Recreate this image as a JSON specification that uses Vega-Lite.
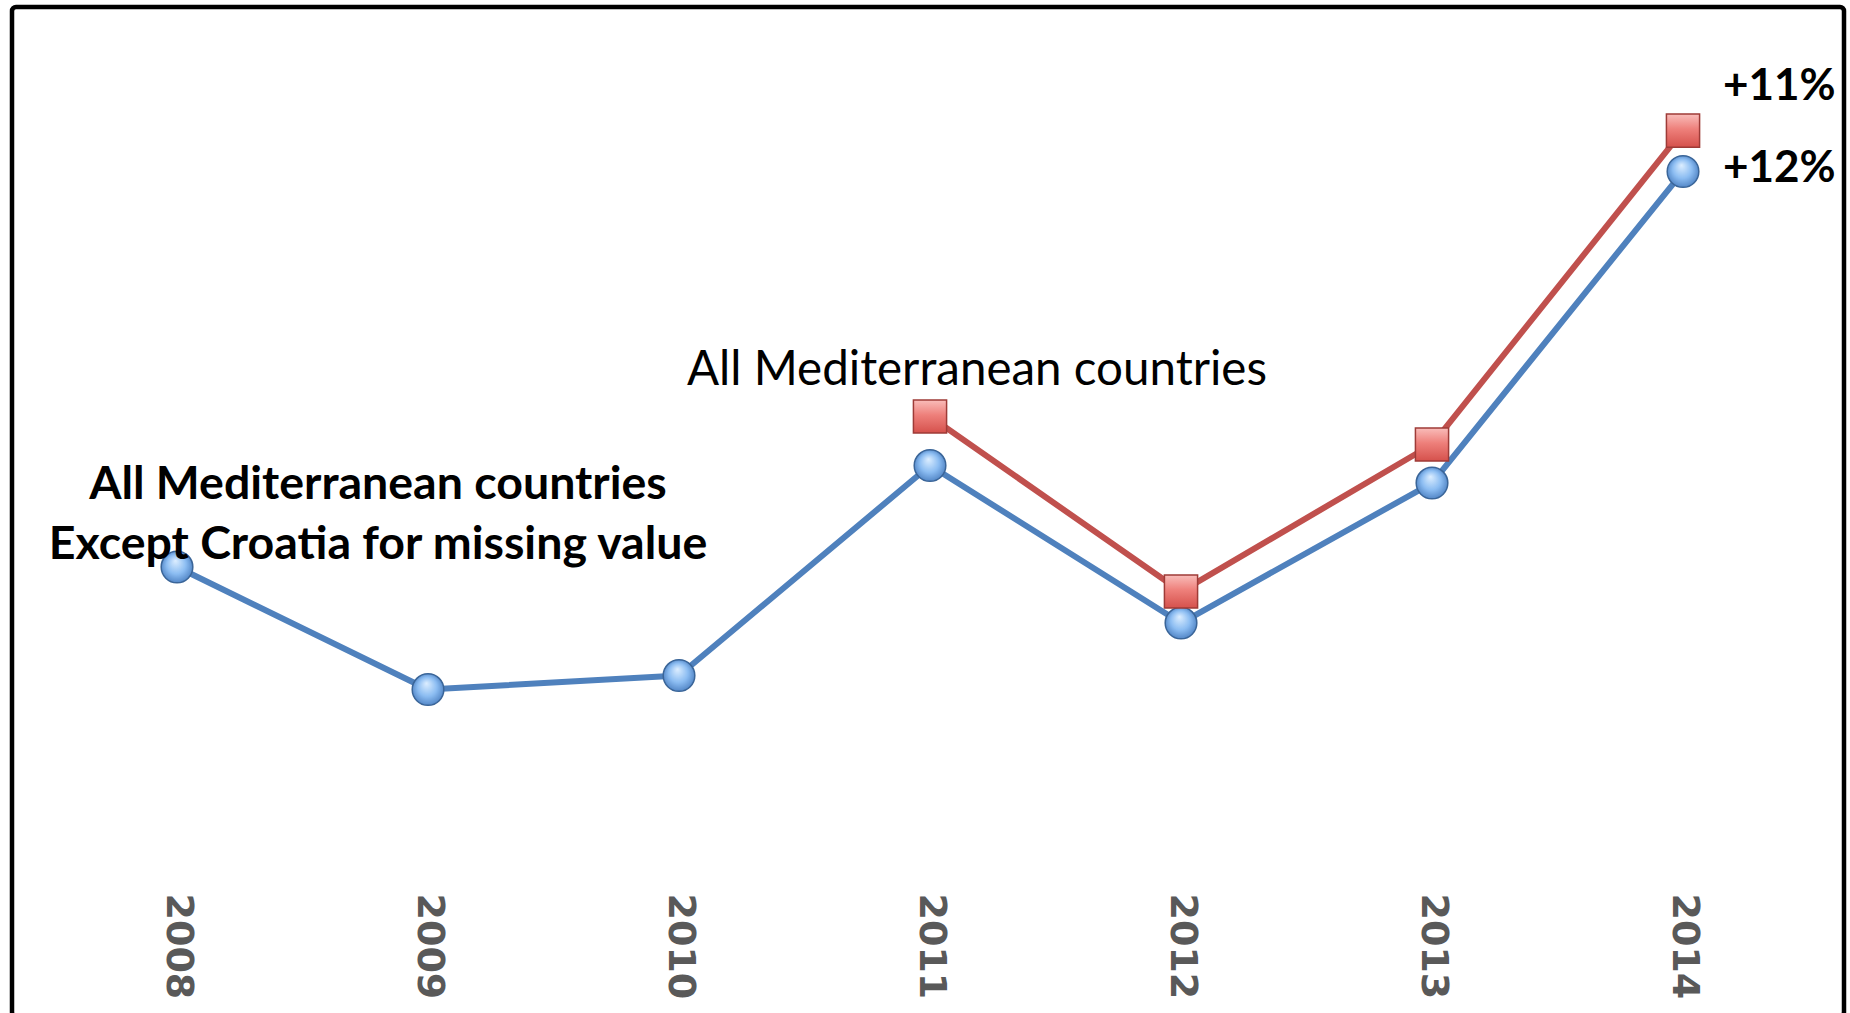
{
  "$schema": "https://vega.github.io/schema/vega-lite/v6.json",
  "width": 1832,
  "height": 1009,
  "autosize": {"type": "none"},
  "padding": {"left": 12, "top": 7, "right": 6, "bottom": -3},
  "background": "white",
  "config": {
    "view": {"stroke": "#000000", "strokeWidth": 4.5, "cornerRadius": 4, "fill": "white"}
  },
  "datasets": {
    "series": [
      {"year": 2008, "series": "Except Croatia", "value": 2.52, "note": "All Mediterranean countries\nExcept Croatia for missing value"},
      {"year": 2009, "series": "Except Croatia", "value": 1.47},
      {"year": 2010, "series": "Except Croatia", "value": 1.59},
      {"year": 2011, "series": "Except Croatia", "value": 3.39},
      {"year": 2012, "series": "Except Croatia", "value": 2.04},
      {"year": 2013, "series": "Except Croatia", "value": 3.24},
      {"year": 2014, "series": "Except Croatia", "value": 5.91, "note": "+12%"},
      {"year": 2011, "series": "All", "value": 3.81, "note": "All Mediterranean countries"},
      {"year": 2012, "series": "All", "value": 2.31},
      {"year": 2013, "series": "All", "value": 3.57},
      {"year": 2014, "series": "All", "value": 6.26, "note": "+11%"}
    ],
    "grid": [
      {"level": 0}, {"level": 1}, {"level": 2}, {"level": 3},
      {"level": 4}, {"level": 5}, {"level": 6}, {"level": 7}
    ]
  },
  "encoding": {
    "x": {"field": "year", "type": "quantitative", "scale": {"domain": [2007.3426, 2014.6414], "nice": false, "zero": false},
      "axis": {"values": [2008, 2009, 2010, 2011, 2012, 2013, 2014], "format": "d", "title": null, "orient": "bottom", "offset": -123, "domain": false, "ticks": false, "grid": false, "labelAngle": 90, "labelAlign": "left", "labelBaseline": "middle", "labelPadding": 0, "labelFont": "DejaVu Sans", "labelFontWeight": "bold", "labelFontSize": 38, "labelColor": "#595959", "labelFlush": false, "labelOverlap": false, "labelBound": false}},
    "y": {"field": "value", "type": "quantitative", "scale": {"domain": [-1.328, 7.32], "nice": false, "zero": false}, "axis": null}
  },
  "layer": [
    {
      "data": {"name": "grid"},
      "mark": {"type": "rule", "color": "#D9D9D9", "strokeWidth": 2},
      "encoding": {
        "x": {"datum": 2007.5, "type": "quantitative"},
        "x2": {"datum": 2014.5},
        "y": {"field": "level", "type": "quantitative"}
      }
    },
    {
      "data": {"name": "series"},
      "transform": [{"filter": "datum.series === 'Except Croatia'"}],
      "mark": {"type": "line", "color": "#4F81BD", "strokeWidth": 6, "strokeJoin": "round", "strokeCap": "round"},
      "encoding": {}
    },
    {
      "data": {"name": "series"},
      "transform": [{"filter": "datum.series === 'Except Croatia'"}],
      "mark": {"type": "point", "shape": "circle", "size": 1000, "filled": true, "opacity": 1,
        "fill": {"gradient": "radial", "x1": 0.45, "y1": 0.3, "r1": 0, "x2": 0.5, "y2": 0.5, "r2": 0.55,
          "stops": [{"offset": 0, "color": "#DDEEFF"}, {"offset": 0.55, "color": "#8CBDF2"}, {"offset": 1, "color": "#4A7EC0"}]},
        "stroke": "#3A6598", "strokeWidth": 1.5},
      "encoding": {}
    },
    {
      "data": {"name": "series"},
      "transform": [{"filter": "datum.series === 'All'"}],
      "mark": {"type": "line", "color": "#C0504D", "strokeWidth": 6, "strokeJoin": "round", "strokeCap": "round"},
      "encoding": {}
    },
    {
      "data": {"name": "series"},
      "transform": [{"filter": "datum.series === 'All'"}],
      "mark": {"type": "point", "shape": "square", "size": 1100, "filled": true, "opacity": 1,
        "fill": {"gradient": "linear", "x1": 0, "y1": 0, "x2": 0, "y2": 1,
          "stops": [{"offset": 0, "color": "#F9BDBA"}, {"offset": 0.45, "color": "#EE807B"}, {"offset": 1, "color": "#D5514C"}]},
        "stroke": "#9E3B37", "strokeWidth": 1.5},
      "encoding": {}
    },
    {
      "data": {"name": "series"},
      "transform": [{"filter": "datum.series === 'Except Croatia' && datum.year === 2008"}],
      "mark": {"type": "text", "font": "Lato", "fontWeight": "bold", "fontSize": 46.5, "color": "#000000", "align": "center", "baseline": "alphabetic", "dx": 201, "dy": -68, "lineBreak": "\n", "lineHeight": 60},
      "encoding": {"text": {"field": "note", "type": "nominal"}}
    },
    {
      "data": {"name": "series"},
      "transform": [{"filter": "datum.series === 'All' && datum.year === 2011"}],
      "mark": {"type": "text", "font": "Lato", "fontWeight": "normal", "fontSize": 47.5, "color": "#000000", "align": "center", "baseline": "alphabetic", "dx": 47, "dy": -32},
      "encoding": {"text": {"field": "note", "type": "nominal"}}
    },
    {
      "data": {"name": "series"},
      "transform": [{"filter": "datum.series === 'All' && datum.year === 2014"}],
      "mark": {"type": "text", "font": "Lato", "fontWeight": "bold", "fontSize": 44, "color": "#000000", "align": "left", "baseline": "alphabetic", "dx": 40, "dy": -31},
      "encoding": {"text": {"field": "note", "type": "nominal"}}
    },
    {
      "data": {"name": "series"},
      "transform": [{"filter": "datum.series === 'Except Croatia' && datum.year === 2014"}],
      "mark": {"type": "text", "font": "Lato", "fontWeight": "bold", "fontSize": 44, "color": "#000000", "align": "left", "baseline": "alphabetic", "dx": 40, "dy": 10},
      "encoding": {"text": {"field": "note", "type": "nominal"}}
    }
  ]
}
